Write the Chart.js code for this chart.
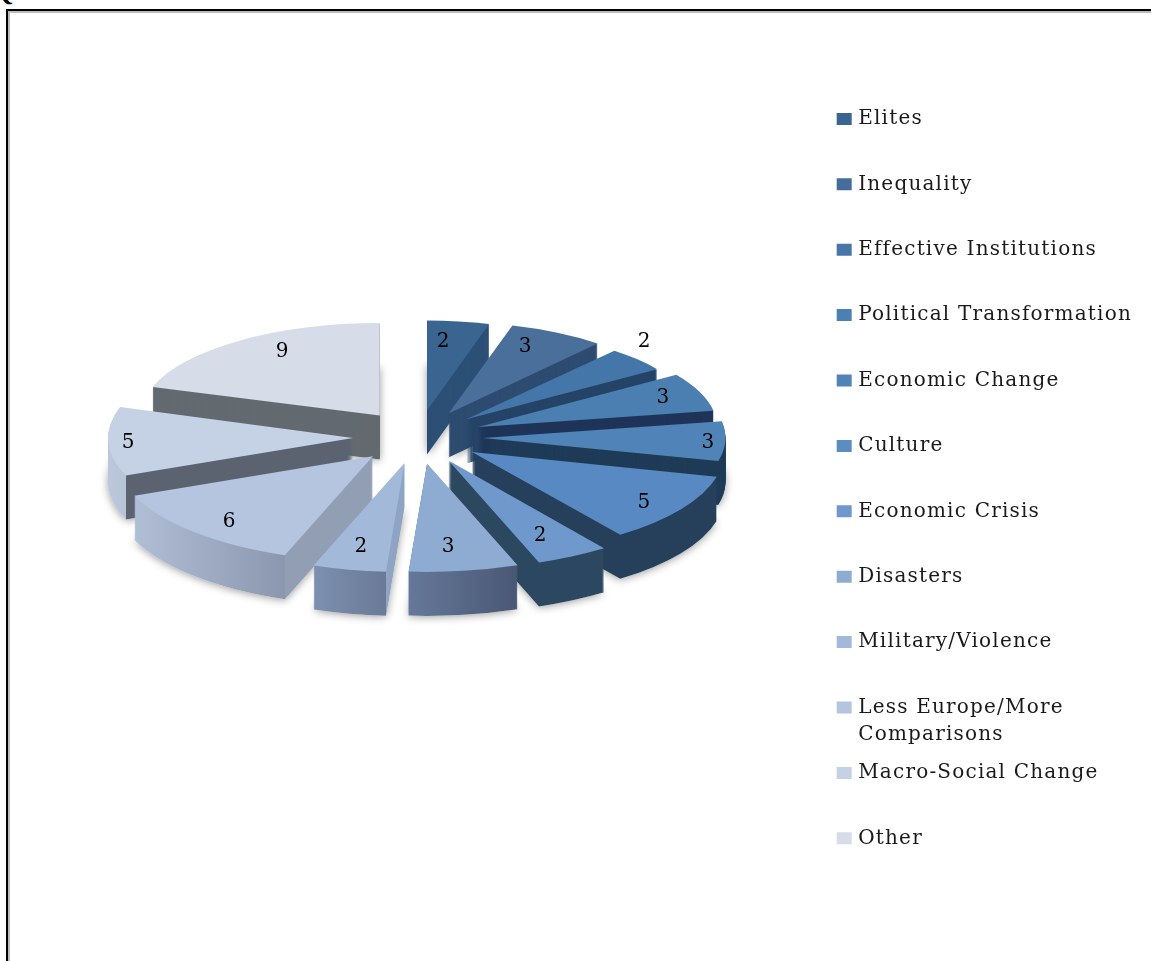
<!DOCTYPE html>
<html lang="en">
<head>
    <meta charset="UTF-8">
    <title>Question 1</title>
    <script src="https://cdn.jsdelivr.net/npm/chart.js"></script>
    <style>
        html, body { margin: 0; padding: 0; background: #fff; overflow: hidden; }
        #heading {
            position: absolute; left: -7px; top: -23px; margin: 0;
            font: bold 26px "Liberation Serif", serif; letter-spacing: 3px; color: #000;
        }
        #frame {
            position: absolute; left: 6px; top: 9px; width: 1160px; height: 980px;
            border: 2px solid #000; box-shadow: inset 2px 2px 0 #bbb;
        }
        #wrap { position: absolute; left: 0; top: 0; width: 1151px; height: 961px; }
    </style>
</head>
<body>
    <div id="heading">Question 1:</div>
    <div id="frame"></div>
    <div id="wrap"><canvas id="pieChart" width="1151" height="961"></canvas></div>
    <script>
        const categories = ['Elites', 'Inequality', 'Effective Institutions', 'Political Transformation',
            'Economic Change', 'Culture', 'Economic Crisis', 'Disasters', 'Military/Violence',
            'Less Europe/More Comparisons', 'Macro-Social Change', 'Other'];
        const counts = [2, 3, 2, 3, 3, 5, 2, 3, 2, 6, 5, 9];

        const topColors = ['#3a6591', '#4a6f9b', '#4476a9', '#4b7fb1', '#5084b8', '#5889c2',
            '#6f99cc', '#8eabd2', '#a3b9da', '#b5c5df', '#c5d2e5', '#d7dce9'];
        const legendColors = ['#3a6591', '#466d99', '#4676a7', '#4c7fb2', '#5084b8', '#5a8dc0',
            '#6f99cc', '#8eabd2', '#a3b9da', '#b5c5df', '#c5d2e5', '#d7dce9'];
        // side of each wedge: rim colour at its outer edge, rim colour at the corner, cut face colour
        const sideColors = [
            ['#2c4f75', '#2c4f75', '#2c4f75'], ['#2e4c70', '#2e4c70', '#2e4c70'],
            ['#254467', '#254467', '#254467'], ['#1f3458', '#1f3458', '#1f3458'],
            ['#1f3b57', '#1f3b57', '#1f3b57'], ['#263f5a', '#263f5a', '#263f5a'],
            ['#2c4860', '#2c4860', '#2c4860'], ['#66789a', '#485874', '#485874'],
            ['#7d90b0', '#6a7a96', '#8fa4c4'], ['#b0bed6', '#8b97ae', '#929eb4'],
            ['#bbc8dc', '#b6c3d8', '#5a636f'], ['#636a70', '#636a70', '#636a70']];
        // perspective: nearer wedges are drawn larger than those at the back
        const widthScale = [0.92, 0.947, 0.94, 0.975, 0.99, 1.03, 1.08, 1.08, 1.085, 1.05, 1.0, 0.975];
        const heightScale = [0.896, 0.91, 0.89, 0.93, 0.95, 1.02, 1.08, 1.08, 1.085, 1.05, 1.0, 0.92];
        // each count's place, measured from the tip of its wedge
        const labelOffset = [[16, -69], [76.5, -66.5], [177.7, -77], [184.7, -29], [225, 5], [172, 51],
            [91.5, 75.5], [21, 83.6], [-43.5, 84], [-143.8, 65.8], [-225, 5], [-97.8, -63.4]];

        const pieCentre = { x: 418, y: 437 };
        const pieRadius = 245;
        const explode = 65;
        const squash = 0.41;
        const rimDepth = 44;
        const legendFontSize = 20;
        const legendSpacing = '1.2px';
        const wrappedItem = 9;
        const wrappedLines = ['Less Europe/More', 'Comparisons'];

        function wedgeTip(arc) {
            const mid = (arc.startAngle + arc.endAngle) / 2;
            return {
                x: pieCentre.x + explode * Math.cos(mid),
                y: pieCentre.y + explode * squash * Math.sin(mid)
            };
        }

        function wedgeTransform(ctx, arc, i, dy) {
            const { x, y } = arc.getProps(['x', 'y']);
            const tip = wedgeTip(arc);
            const sx = widthScale[i];
            const sy = heightScale[i] * squash;
            ctx.setTransform(sx, 0, 0, sy, tip.x - sx * x, tip.y + dy - sy * y);
        }

        // rim colours run across the wedge, with a hard change where the cut face begins
        function rimFill(ctx, arc, i) {
            const { x, startAngle, endAngle } = arc.getProps(['x', 'startAngle', 'endAngle']);
            const mid = (startAngle + endAngle) / 2;
            const colours = sideColors[i];
            if (Math.sin(mid) <= 0.2 && i !== 10) return colours[2];
            const xs = [Math.cos(startAngle), Math.cos(endAngle)];
            const x0 = x + pieRadius * (startAngle < Math.PI && endAngle > Math.PI ? -1 : Math.min(...xs, 0));
            const x1 = x + pieRadius * Math.max(...xs, 0);
            const g = ctx.createLinearGradient(x0, 0, x1, 0);
            const at = v => Math.min(1, Math.max(0, (v - x0) / (x1 - x0)));
            // wedge at the very front has only rim, no cut face in view
            if (startAngle < Math.PI / 2 && endAngle > Math.PI / 2) {
                g.addColorStop(0, colours[0]);
                g.addColorStop(1, colours[1]);
                return g;
            }
            if (Math.cos(mid) < 0) {
                const corner = x + pieRadius * Math.max(...xs);
                g.addColorStop(0, colours[0]);
                g.addColorStop(at(corner), colours[1]);
                g.addColorStop(Math.min(1, at(corner) + 0.001), colours[2]);
                g.addColorStop(1, colours[2]);
            } else {
                const corner = x + pieRadius * Math.min(...xs);
                g.addColorStop(0, colours[2]);
                g.addColorStop(Math.max(0, at(corner) - 0.001), colours[2]);
                g.addColorStop(at(corner), colours[1]);
                g.addColorStop(1, colours[0]);
            }
            return g;
        }

        function drawWith(ctx, arc, fill) {
            const saved = arc.options;
            arc.options = Object.create(saved, { backgroundColor: { value: fill } });
            arc.draw(ctx);
            arc.options = saved;
        }

        const tiltPlugin = {
            id: 'tilt',
            // chart.js resizes the canvas on init, which clears the context state
            beforeUpdate(chart) {
                chart.ctx.letterSpacing = legendSpacing;
            },
            beforeDatasetsDraw(chart) {
                const ctx = chart.ctx;
                const arcs = chart.getDatasetMeta(0).data;
                const midOf = i => (arcs[i].startAngle + arcs[i].endAngle) / 2;
                const order = arcs.map((a, i) => i).sort((p, q) => Math.sin(midOf(p)) - Math.sin(midOf(q)));
                const base = ctx.getTransform();

                // soft shadow under the lowest layer
                order.forEach(i => {
                    ctx.save();
                    ctx.shadowColor = 'rgba(0,0,0,0.4)';
                    ctx.shadowBlur = 8;
                    ctx.shadowOffsetY = 1;
                    wedgeTransform(ctx, arcs[i], i, rimDepth);
                    drawWith(ctx, arcs[i], '#fff');
                    ctx.restore();
                });

                order.forEach(i => {
                    const rim = rimFill(ctx, arcs[i], i);
                    for (let dy = rimDepth; dy > 0; dy--) {
                        ctx.save();
                        wedgeTransform(ctx, arcs[i], i, dy);
                        drawWith(ctx, arcs[i], rim);
                        ctx.restore();
                    }
                    ctx.save();
                    wedgeTransform(ctx, arcs[i], i, 0);
                    drawWith(ctx, arcs[i], topColors[i]);
                    ctx.restore();
                });
                ctx.setTransform(base);

                ctx.save();
                ctx.letterSpacing = '0px';
                ctx.fillStyle = '#000';
                ctx.font = `${legendFontSize}px "DejaVu Serif", serif`;
                ctx.textAlign = 'center';
                ctx.textBaseline = 'middle';
                arcs.forEach((arc, i) => {
                    const tip = wedgeTip(arc);
                    ctx.fillText(String(counts[i]), tip.x + labelOffset[i][0], tip.y + labelOffset[i][1]);
                });
                ctx.restore();
                return false;
            },
            // second line of the one legend entry that wraps
            afterDraw(chart) {
                const ctx = chart.ctx;
                const box = chart.legend.legendHitBoxes[wrappedItem];
                ctx.save();
                ctx.fillStyle = '#1a1a1a';
                ctx.font = `${legendFontSize}px "DejaVu Serif", serif`;
                ctx.textBaseline = 'middle';
                ctx.fillText(wrappedLines[1], box.left + 18, box.top + legendFontSize / 2 + 27);
                ctx.restore();
            }
        };

        new Chart(document.getElementById('pieChart'), {
            type: 'pie',
            data: {
                labels: categories,
                datasets: [{
                    data: counts,
                    backgroundColor: legendColors,
                    borderWidth: 0,
                    radius: pieRadius
                }]
            },
            options: {
                responsive: false,
                animation: false,
                layout: { padding: { top: 63.5, right: 9 } },
                plugins: {
                    tooltip: { enabled: false },
                    legend: {
                        position: 'right',
                        align: 'start',
                        labels: {
                            // thick outline keeps the text closer to the swatch
                            boxWidth: 8,
                            boxHeight: 5,
                            padding: 45.4,
                            color: '#1a1a1a',
                            font: { family: '"DejaVu Serif", serif', size: legendFontSize },
                            generateLabels(chart) {
                                const items = Chart.overrides.pie.plugins.legend.labels.generateLabels(chart);
                                items.forEach((item, i) => {
                                    item.strokeStyle = item.fillStyle;
                                    item.lineWidth = 7;
                                    if (i === wrappedItem) item.text = wrappedLines[0];
                                });
                                return items;
                            }
                        }
                    }
                }
            },
            plugins: [tiltPlugin]
        });
    </script>
</body>
</html>
